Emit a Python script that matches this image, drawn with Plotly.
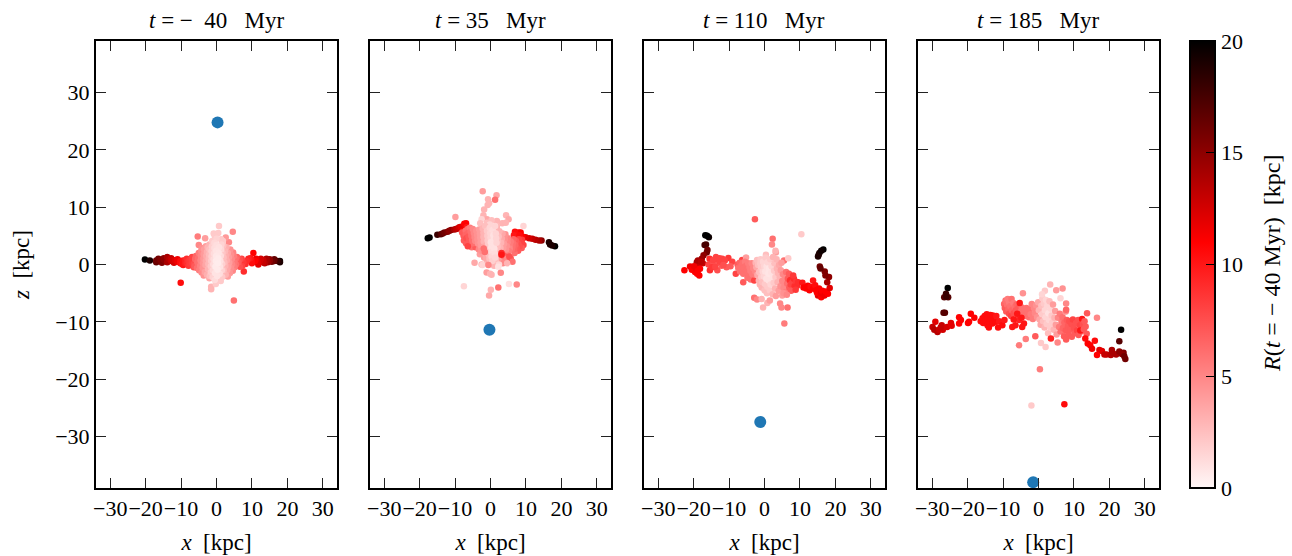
import plotly.graph_objects as go

W, H = 1292, 556
TITLES = ["<i>t</i> = −  40   Myr", "<i>t</i> = 35   Myr", "<i>t</i> = 110   Myr", "<i>t</i> = 185   Myr"]
TICKS = [-30, -20, -10, 0, 10, 20, 30]
CBAR_TICKS = [0, 5, 10, 15, 20]
BLUE_X = [0.3, -0.3, -1.2, -1.5]
BLUE_Z = [24.8, -11.4, -27.5, -38.0]

# (x, z, R)
P1 = [
(-20.2,.87,20),(-18.8,.7,19),(-17,.7,16),(-17,.4,16.5),(-16.4,.6,16),(-16.4,1,16),(-15.8,.8,15.5),(-15.4,.3,15.5),(-14.9,.87,15),(-14.9,1.1,15),(-14.4,.6,15),(-13.9,1.3,14),(-13.9,.4,14),(-13.3,.9,13.5),(-12.8,.6,13),(-12.8,1.1,13),(-12.4,.8,12.5),(-12,.3,12.5),(-11.6,.75,12),(-11,.5,11.5),(-11,.9,11.5),(-10.2,.6,10.5),(-10.2,.2,10.5),(-9.7,.1,10),(-9.4,.7,10),(-9.4,-.1,10),(-8.8,.7,9.5),(-8.8,.2,9.5),(-8.4,.3,9),(-8.4,1,9),(-7.9,.6,8.5),(-7.9,-.2,8.5),(-7.4,.9,8.3),(-7.4,.1,8.3),(-6.9,.8,8),(-6.9,.3,8),(-6.9,1.3,8),(-6.4,.1,7.5),(-6.4,-.5,7.5),(-6,1,7),
(17.9,.6,19.5),(17.2,.6,18),(17.9,.4,19),(16.3,.6,16.5),(16.3,.9,16.5),(15.6,.5,16),(15,.6,15),(15,.9,15),(14.5,.4,14.5),(14.1,.7,14),(14.1,1,14),(13.6,.2,13.5),(13.2,.8,13),(13.1,.4,13),(11.8,0,12),(12.3,.7,12.5),(12.5,1,12.5),(11.6,.4,12),(10.9,.6,11),(11.2,1,11.5),(9.9,.7,10.5),(10,.2,10.5),(9.6,1.1,10),(9,1,9.5),(8.5,.6,9),(8.2,.1,9),(7.1,1,8),(7.6,.4,8.5),(7.2,-.3,8),(6.2,.4,7),(6.6,.9,7.5),(6.6,-.4,7.5),(5.8,1.3,6.5),(5.2,.7,6),
(10.4,2,11),(7.7,-1.2,9),(-10.1,-3.2,10.5),(4.9,-6.3,6),(4.6,5.7,5),(-5.3,4.9,5.5),(.7,6.7,2),(-1.5,-4.3,3),(-1.5,-3.9,3),(-.2,-3.4,2),(1.2,-2.9,2),(3.2,-2.1,4),(-5,3.4,5),(-3.2,4.6,4),(2.6,4.7,4.2),(3.5,3.9,5),(1.3,4.4,2),(1.8,4.1,2),(-.8,5.4,2),(.5,5.5,2),(-.5,5,2),(-3,3.2,4),(-4.2,2.9,4.6),(-2,-2.4,3.6),(-3.6,-1.9,4.5),
(-6.2,-.3,7),(-6,.9,6.5),(-5.8,1.5,6.5),(-5.5,-.6,6),(-5.4,.4,6),(-5.2,1.1,6),(-5,2,5.5),(-4.9,-1,5.4),(-4.6,-.2,5.2),(-4.5,.7,5),(-4.4,1.5,5),(-4.3,2.3,4.8),(-4.2,-1.4,4.8),(-3.9,-.6,4.4),(-3.8,.2,4.3),(-3.7,1,4.2),(-3.6,1.8,4.1),(-3.5,2.6,4),(-3.3,-1.3,3.8),(-3.1,-.1,3.6),(-3,.6,3.5),(-2.9,1.5,3.4),(-2.7,2.2,3.2),(-2.7,-1.8,3.2),(-2.5,3,3),(-2.4,-.8,3),(-2.3,.1,2.8),(-2.2,.9,2.7),(-2.1,1.7,2.6),(-2,2.6,2.5),(-2,3.5,3),(-1.9,-2,2.5),
(5.5,.0,6),(5.4,1,6),(5.1,-.5,5.5),(5,.4,5.6),(4.9,1.5,5.4),(4.7,2.1,5.2),(4.6,-1.1,5),(4.4,0,5),(4.3,.9,4.8),(4.1,1.7,4.6),(4.1,-.6,4.6),(3.9,2.6,4.4),(3.8,-1.5,4.3),(3.6,.3,4),(3.5,1.2,4),(3.3,-.4,3.8),(3.2,2,3.6),(3,-1,3.5),(2.9,.7,3.3),(2.8,3,3.2),(2.7,1.5,3.2),(2.6,-1.8,3),(2.5,-.2,3),(2.4,2.3,2.8),(2.2,.4,2.6),(2,1.2,2.5),(2,-1,2.5),(1.9,3.3,2.4),(1.7,2,2.2),(1.6,-2.2,2),
(-1.6,-1.3,2),(-1.6,-.3,2),(-1.5,.6,1.9),(-1.4,1.4,1.8),(-1.4,2.3,1.8),(-1.3,3.2,1.8),(-1.2,4.1,1.9),(-1.1,-2.2,1.6),(-1,-1,1.4),(-.9,0,1.2),(-.8,.9,1.2),(-.7,1.9,1.2),(-.6,2.9,1.2),(-.6,3.8,1.4),(-.5,-2.7,1.2),(-.4,-1.5,.9),(-.3,-.4,.6),(-.2,.6,.6),(-.1,1.5,.7),(-.1,2.4,.9),(0,3.4,1.1),(0,4.5,1.6),(.2,-2,.9),(.3,-.9,.6),(.4,.2,.5),(.5,1.1,.6),(.6,2,.8),(.7,3,1),(.9,-1.6,1.1),(1,-.4,.9),(1.1,.6,1),(1.2,1.5,1.2),(1.3,2.6,1.4),(1.4,3.5,1.6),(1.5,-1,1.6),(1.6,.1,1.7),
]
P2 = [
(-17.7,4.6,20),(-17.2,4.7,20),(-15,5.2,18),(-14,5.3,17),(-13.5,5.4,16.5),(-13,5.6,16),(-12.1,5.7,15.5),(-11.6,5.9,15),(-11.1,6,15),(-10.2,6.1,14),(-9.7,6.2,13.5),(-9.3,6.3,13),(-8.8,6.5,12.5),(-8.3,6.6,12),(-7.4,7.1,11),(-6.9,7.2,11),(-6.7,6.5,10),(-7.8,5.9,11),
(18.2,3.2,20),(17.4,3.3,19),(16.5,3.9,19),(16.8,3.5,19),(14.4,4.2,15),(13.7,4.2,14),(12.7,4.3,13.5),(11.8,4.5,13),(10.9,4.6,12.5),(9.9,4.75,12),(9,4.9,11),(8.5,5.6,11),(7.9,5.6,11),(6.9,5.7,10.5),(7.6,5,10),(6.6,5.1,10),(8.2,5.1,10.5),
(-2.2,12.8,4),(1.7,12.1,3.5),(-.7,11.4,3),(1.3,11.3,6),(-.4,10.7,3),(-.8,10.4,3),(-1.8,9.6,3),(-2,8.6,3),(-9.9,8.3,4),(4.4,8.6,3),(5.1,7.9,3.5),(-1,7.9,3.5),(-2.5,7.9,1.5),(-1,7.3,2.5),(-2.9,7.2,2.5),(9.3,6.7,1.5),(1.8,7.6,3),(.3,7.7,2.5),(3.3,7.2,3),(4.3,7.3,3),(-.2,7,1.5),
(-7.5,4.2,7),(-6.9,3.7,7),(-5.3,3,6),(-4.2,3,7),(-3.3,2.6,5),(-3,1.8,4),(-2.2,2,4),(-1.8,1.2,4),(-1,.5,3),(-.5,.9,3.5),(.5,.3,2.5),(1,-.2,3),(1.4,.3,3),(2.2,1.2,2),(3,.7,4),(3.8,1.4,6),(4.3,1.8,7),(4.6,1,5),(3.5,.2,5),(9.3,3.4,8),(8.8,2.9,7),(7.8,2.4,7),(6.8,2,6),
(-8,5.6,7),(-7.6,5,7),(-7,5.9,6),(-7,5.2,6.5),(-6.8,4.6,7.5),(-6.4,6.2,6),(-6.3,5.5,6.5),(-6.2,4.9,7),(-6,4.2,7),(-5.8,6.4,5.5),(-5.6,5.7,6),(-5.4,5,6),(-5.2,4.3,6),(-5,3.7,6),(-5,6.2,5),(-4.7,5.5,5),(-4.5,4.8,5),(-4.3,4.1,5),(-4,5.9,4.5),(-3.8,5.2,4.5),(-3.7,4.4,4.5),(-3.5,3.6,4.5),(-3.2,6.1,4),(-3,5.4,4),(-2.9,4.7,4),(-2.8,3.9,4),(-2.6,3.1,4),(-2.6,2.4,4.5),(-2.2,6.3,3),(-2,5.5,3),(-2,4.8,3),(-1.9,4,3),(-1.8,3.1,3.5),(-1.7,2.4,4.5),(-1.4,1.7,3.5),(-1.2,1.1,3.5),(-1.5,6.7,2.5),
(8.9,4.3,8.5),(8.6,3.8,8),(8.2,3.2,7.5),(8,4.4,8),(7.8,3.6,7.5),(7.4,2.9,7),(7.2,4.1,7),(7,3.4,6.5),(6.7,2.7,6.5),(6.5,4.4,6.5),(6.3,3.7,6),(6.2,3.1,6),(6,2.6,6),(5.7,4,5.5),(5.5,3.4,5.5),(5.4,2.8,5),(5.2,2.3,5.5),(4.9,4.6,5),(4.8,3.9,5),(4.6,3.2,4.5),(4.4,2.6,4.5),(4.2,5.3,4.5),(4,4.4,4.5),(3.8,3.6,4),(3.6,2.9,4),(3.4,5.4,3.5),(3.2,4.5,3.5),(3,3.8,3),(2.8,2.9,3),(2.6,1.6,3.5),(2.5,5.8,3),(2.3,4.9,2.5),(2.1,4.1,2.5),(2,3.2,2.5),(1.9,2.3,2.5),(1.8,6.6,3),(1.5,.8,2.5),
(-1,5.9,2),(-.9,5,2),(-.8,4.2,2),(-.7,3.4,2),(-.6,2.6,2),(-.5,1.8,2.5),(-.3,1,2.5),(-.2,6.4,1.5),(-.1,5.5,1.5),(0,4.7,1.5),(.1,3.9,1),(.2,3,1),(.3,2.2,1.2),(.3,1.4,1.5),(.5,.6,1.8),(.6,6,1.2),(.8,5.1,1),(.9,4.3,1),(1,3.5,1),(1.1,2.7,1),(1.2,1.9,1.2),(1.3,1.2,1.5),(1.3,6.7,1.5),(1.5,5.4,1.5),(1.6,4.6,1.5),(1.7,3.8,1.5),
(-6.4,3.2,8),(3.1,2,9),(3.1,1.7,10),(5.7,1.1,7),(5.3,1.4,7.5),(6.2,.5,6),(4.7,.2,3),(-4.5,.3,3.5),(-2.5,0,3),(-2.3,-.1,1.5),(-.6,-.1,5),(2.4,0,1.5),(2.2,-.4,1),(-1.1,-1.4,4),(-.1,-1.6,3),(.3,-1.8,3),(2.9,-1.45,5),(-7.5,-3.8,1.5),(5.2,-3.4,1),(7.4,-3.5,5),(2.2,-4,6),(.1,-4.4,3),(-.4,-5.4,3.5),(-1.6,2.2,6),(-1.9,2.8,6),
]
P3 = [
(-16.7,5.1,20),(-15.7,4.75,19.5),(-16.2,5,20),(-16.5,3.5,17.5),(-16.9,3.4,17.5),(-16.1,2.55,16),(-16.3,2.1,16),(-17.2,1.6,15),(-17.7,1,14.5),(-19.1,.4,14),(-18.6,-.2,13),(-17.4,.2,13),(-18.8,.7,14),(-17.9,.5,13.5),
(-22.6,-1,11),(-21,-.35,11.5),(-20.5,-.9,11),(-19.6,-1.3,11),(-18.4,-1.9,11),(-19.3,-.75,11.5),(-18.2,-.75,11),(-19.9,-.3,11.5),(-19,-1.6,11),(-18.8,-1.1,11),
(-15.5,1,9),(-13.7,1.3,8),(-11.9,1,8),(-10.2,1.15,8.5),(-9.1,.5,8),(-15.8,0,8),(-14.4,.1,7.5),(-13,.3,7),(-13.3,-1,7.5),(-15.4,-1,9),(-12.1,-.2,7),(-10.7,-.5,7),(-9.6,-.3,7),(-8.1,-1.6,8),(-6.3,.8,8),(-7.6,0,7),(-6,-3.1,7),(-5.2,1.2,4),(-2.9,-5.8,6),(-2.1,-6.1,5),(-.8,-6,3),(-.4,-7.5,3),(.8,-6.7,3),(1.5,-6.3,4),(4.4,-6.8,5),(4.8,-7.5,5),(6.5,-7.5,6),(5.6,-10.3,5.5),(-2.7,7.9,7),(10.4,5.3,2),(2.3,4.5,6),(2.1,3.5,5),(.4,1.7,2.5),(3.2,2.1,4),(5.5,.7,6),(6.7,1.1,2),(-14.5,.8,8),(-13.2,.9,8),(-12.6,.5,8),(-14.8,-.5,8.5),(-13.9,-.4,8),(-12.7,1.1,8),(-11.2,.7,8),(-11.6,-.1,7.5),(3.1,2.4,3),
(-7.4,-.6,6),(-7,.3,6.5),(-6.9,-1.2,6),(-6.5,-.2,6),(-6.4,-1,6),(-6.1,.3,6),(-6,-1.6,6),(-5.8,-.6,6),(-5.5,.5,5.5),(-5.4,-1.4,6),(-5.2,-.2,6),(-5,-1,6),(-4.8,-2.3,6),(-4.6,.2,5.5),(-4.4,-1.7,6),(-4.2,-.5,5.5),(-4,-1.1,5.5),(-3.9,-2.6,6),(-3.6,.2,5),(-3.4,-1.7,5.5),(-3.2,-.6,5),(-2.9,-2.8,8),(-2.6,-1.2,5),(-2.5,.3,3),(-2.3,-.5,3.5),(-2.1,.8,2.5),(-2,-1.8,3.5),(-1.8,-.1,2.5),
(-1.6,-2.8,3),(-1.5,-1.3,2.5),(-1.3,-3.5,3),(-1.2,.2,2),(-1.1,.9,2),(-1,-.5,2),(-.9,-2.2,2),(-.8,-4,3),(-.6,-3.1,2.5),(-.5,-1.2,1.5),(-.4,.5,1.5),(-.2,-2.1,1.5),(-.1,-.2,1.5),(0,-4.5,2.5),(.1,-3.4,2),(.2,-1.2,1),(.3,1.2,2),(.5,-2.5,1),(.6,-.3,1),(.7,-5,2.5),(.8,-3.9,2),(.9,.4,1.5),(1.1,-1.6,.8),(1.2,-2.8,1),(1.3,-.7,.8),(1.5,-4.5,2),(1.6,.9,2),(1.7,-3.5,1.5),(1.9,-1.4,1),(2,-.3,1.5),(2.2,-2.4,1),(2.3,-5.2,3),(2.4,1.3,3),(2.6,-3.2,2),(2.7,-1.1,2),(2.8,.2,2.5),(3,-4.2,3),(3.1,-2.2,2),(3.2,-5.5,4),(3.4,.9,3),(3.5,-.7,3),(3.7,-3.1,3),(3.8,-1.5,3),(4,-4.6,4),(4.1,-.1,3.5),(4.3,-2.2,3),(4.5,-3.8,4.5),(4.6,-1,4),(4.8,.3,4),(5,-5.4,4),(5,-2.9,5),(5.2,-1.7,5),(5.4,-4.1,5),(5.6,-3.2,5),(5.8,-2.3,5),(6,-4.8,5.5),(6.1,-1.3,6),(6.4,-3.3,6),(6.6,-2.5,7),(7,-4,7),(7.2,-2.8,9),(7.4,-3.5,8),(7.7,-2.3,9),(7.9,-3.1,8),(8.3,-2.5,9),(8.5,-3.8,9),(8.9,-3,8.5),(9.2,-3.7,9),(9.5,-3.1,9),(6.9,-1.6,7),(7.5,-4.6,7),(8.1,-1.9,8.5),(8.8,-4.4,8.5),(5.4,-5,4.5),(6.3,-5.3,5),
(10.7,-3.2,10),(11,-4,11),(11.8,-4.2,11),(12.2,-3.7,11),(12.7,-4.5,11),(13,-3.9,10.5),(13.7,-2.8,10),(13.7,-4.2,11),(14.3,-3.6,10.5),(14.6,-4.5,11),(15.1,-5.4,12),(14.8,-4.9,11),(15.4,-4.2,11),(16,-5.7,11),(15.9,-5,11.5),(16.3,-4.6,11),(16.9,-5.4,11.5),(17.3,-4.7,11),(17.9,-5.1,11),(18.4,-4.1,12),(17.7,-3.1,14),(18.2,-2.2,15),(17.2,-1.9,15.5),(17,-1.2,15.5),(15.6,-.35,16),(15.8,-.7,16.5),(15.1,1.4,19),(15.5,2,19),(15.3,1.7,19),(16.6,2.6,20),(16,2.4,19.5),
]
P4 = [
(-25.6,-4.1,20),(-26.1,-5.1,18),(-26.6,-5.7,17),(-25.5,-5.7,17),(-26,-5.6,18),(-26.8,-8.4,17),(-26.4,-8.4,17),(-29.1,-10,12),(-29.9,-10.9,13),(-29.4,-11.4,13.5),(-28.5,-11.8,13.5),(-28,-11.4,13),(-27.3,-10.6,13),(-27,-11.4,12.5),(-27.6,-11,13),(-25.8,-10.9,12.5),(-24.7,-10.2,12),(-24.5,-10.7,12),(-22.4,-9.2,11),(-21.9,-9.7,11),(-22.4,-10.3,11),(-19.6,-10,11),(-19.1,-8.6,11),(-18.1,-9.3,11),(-19.9,-10.2,11),
(-16.3,-9.9,10.5),(-15.8,-9.4,10.5),(-15.6,-10.2,10.5),(-15.2,-9,10.5),(-15,-9.8,10.5),(-14.6,-8.7,10.5),(-14.4,-10.6,10.5),(-14.3,-9.4,10.5),(-14,-11,10.5),(-13.9,-10,10.5),(-13.6,-8.8,10.5),(-13.2,-9.5,10.5),(-13,-10.3,10.5),(-12.9,-8.9,10.5),(-12,-10,10.5),(-11.4,-11,10.5),(-11.1,-9.9,10),(-10.2,-10.6,10.5),(-9.6,-9.7,10),(-11.9,-9,10),
(-9.7,-6.9,6.5),(-9.5,-7.6,7),(-9.3,-6.3,6),(-9.1,-8.2,7),(-8.9,-7,6),(-8.7,-6,5.5),(-8.5,-7.8,6.5),(-8.3,-8.6,7.5),(-8.3,-6.6,5.5),(-8,-7.3,6),(-7.7,-9,8),(-7.6,-6,6),(-7.5,-8,6.5),(-7.1,-6.7,5.5),(-7,-8.5,7.5),(-6.7,-7.4,6),(-6.4,-8,7),(-6.2,-7,6.5),(-5.9,-8.8,7.5),(-5.7,-7.6,7),
(-5,-8.2,6),(-4.7,-7.5,6),(-4.3,-8.5,6),(-4,-7.9,6),(-3.7,-9,6),(-3.4,-7.6,6),(-3,-8.4,6),(-2.7,-9.2,6),(-2.5,-7.8,6),(-2.2,-8.7,5.5),(-1.9,-6.9,5),(-1.6,-9.5,5.5),(-1.3,-7.6,5),(-1,-8.5,5),(-.7,-7.1,4.5),(-.4,-9.2,4.5),(-.1,-6.6,3.5),(.1,-8,3),(.3,-9.6,3.5),(.6,-10.5,3.5),(.8,-7.2,2.5),(1,-8.7,2),(1.1,-5.9,2),(1.3,-9.9,2.5),(1.5,-6.8,2),(1.7,-11,3),(1.8,-8,1.5),(2,-9.2,1.5),(2.1,-6.2,1.5),(2.3,-10.4,2),(2.5,-7.1,1.5),(2.7,-12,2.5),(2.8,-8.5,1),(3,-9.7,1.5),(3.1,-6.4,2.5),(3.3,-11,2),(3.5,-7.7,1.5),(3.7,-8.9,2),(3.9,-10.1,2),(4.1,-7,4),(4.3,-11.4,3),(4.5,-9.3,3),(4.7,-8.1,4),(4.9,-10.5,4),(5.1,-12.2,4),(3.3,-3.5,3),(6.8,-4.2,4.5),(5,-4.5,4),(1.8,-4.6,2),(6.2,-5.9,1.5),(1,-5.2,1.5),(7.8,-6.8,5),(7.7,-8.2,5),(7.8,-7.9,6.5),
(-5.3,-6.7,10),(-4.4,-5,4.5),(-7.4,-10.9,10),(-6.5,-10.6,10),(-4.6,-10.9,10),(-4.1,-10.3,10),(-6,-8.6,10),(-5.5,-9.7,9.5),(-7,-9.6,10),(-4.8,-9.3,10),(-5.5,-14.1,5.5),(-3.6,-13,5.5),(-.9,-12.5,7),(.4,-18.3,5.5),(-2,-24.6,2),(7.3,-24.4,10.5),(.7,-13.7,2),(2,-14.4,2),(3.5,-12.9,9.5),(5.4,-13.6,5),
(5.5,-9.3,5),(5.8,-10.9,5.5),(6,-8.6,5.5),(6.2,-11.7,6),(6.5,-10,5.5),(6.8,-9.2,6),(6.9,-11.1,6.5),(7.2,-12.5,7),(7.3,-10.1,6.5),(7.7,-11.5,7),(7.8,-13.1,7),(8,-9.7,7),(8.3,-10.7,7),(8.5,-12.3,7),(8.7,-9.9,7.5),(9,-11.4,7),(9.3,-10.4,7.5),(9.4,-12.6,7),(9.7,-9.6,8),(10,-11.1,7.5),(10.2,-12,7),(10.6,-10.2,7.5),(10.9,-11.5,8),(11.2,-9.7,7.5),(11.3,-12.3,7),(11.7,-10.6,8),(12,-11.7,7),(12.3,-9.5,10),(11.8,-11.5,10),(12.5,-10.4,7.5),(12.8,-11.3,7),(13,-9.9,7),(13.3,-10.8,7),(13.7,-8.5,7),(13.6,-12.1,7),(16.5,-9.3,5),
(13.2,-12.9,10.5),(13.9,-13.8,11),(14.6,-14.1,11),(15.9,-13.3,10.5),(15.1,-14.7,11.5),(17.2,-14.9,12),(17.9,-15.1,12),(16.5,-15.8,11),(18.6,-15.7,13),(19.2,-15.7,13),(20.4,-15.8,13.5),(20.7,-14.9,14),(21.9,-15.7,14),(21,-15.5,14),(22.8,-15.2,15),(22.8,-13.4,17),(23.3,-11.4,20),(24,-15.4,15.5),(23.5,-15.6,15),(24.2,-16,16),(24.5,-16.5,16),
]
PANELS = [sorted(P1, key=lambda p: -p[2]), P2, P3, P4]

LEFT = [96, 370, 644, 918]
PW, TOP, BOT = 241, 41, 488
FONT = "Liberation Serif"
COLORSCALE = [[0, "#fff7f7"], [0.55, "#ff0000"], [1, "#000000"]]

fig = go.Figure()
layout = dict(width=W, height=H, margin=dict(l=0, r=0, t=0, b=0), autosize=False,
              paper_bgcolor="white", plot_bgcolor="white",
              font=dict(family=FONT, size=22, color="black"), showlegend=False)
annotations = []
axis_common = dict(showgrid=False, zeroline=False, showline=True, mirror="allticks", linecolor="black", linewidth=2,
                   ticks="inside", ticklen=10, tickwidth=1.2, tickcolor="#222222", tickangle=0, automargin=False,
                   tickmode="array", tickvals=TICKS, tickfont=dict(family=FONT, size=22, color="black"))
for i, pts in enumerate(PANELS):
    n = "" if i == 0 else str(i + 1)
    xs = [p[0] for p in pts]; zs = [p[1] for p in pts]; rs = [p[2] for p in pts]
    marker = dict(size=6.5, color=rs, cmin=0, cmax=20, colorscale=COLORSCALE, line=dict(width=0), opacity=1)
    if i == 0:
        marker["colorbar"] = dict(x=1190 / W, xanchor="left", xpad=0, ypad=0, thickness=25, thicknessmode="pixels",
                                  lenmode="fraction", len=(BOT - TOP) / H, y=(H - BOT) / H, yanchor="bottom",
                                  outlinewidth=2, outlinecolor="black", ticks="inside", ticklen=10, tickwidth=1,
                                  tickcolor="black", tickmode="array", tickvals=CBAR_TICKS,
                                  tickfont=dict(family=FONT, size=22, color="black"))
    fig.add_trace(go.Scatter(x=xs, y=zs, mode="markers", marker=marker, xaxis="x" + n, yaxis="y" + n))
    fig.add_trace(go.Scatter(x=[BLUE_X[i]], y=[BLUE_Z[i]], mode="markers",
                             marker=dict(size=12, color="#1f77b4"), xaxis="x" + n, yaxis="y" + n, cliponaxis=False))
    layout["xaxis" + n] = dict(axis_common, domain=[LEFT[i] / W, (LEFT[i] + PW) / W], range=[-34, 34], anchor="y" + n,
                               title=dict(text="<i>x</i>  [kpc]", font=dict(family=FONT, size=23), standoff=13))
    layout["yaxis" + n] = dict(axis_common, domain=[1 - BOT / H, 1 - TOP / H], range=[-39, 39], anchor="x" + n,
                               showticklabels=(i == 0))
    annotations.append(dict(x=(LEFT[i] + PW / 2) / W, y=1 - 21 / H, xref="paper", yref="paper", text=TITLES[i],
                            showarrow=False, xanchor="center", yanchor="middle", font=dict(family=FONT, size=23)))
layout["yaxis"]["title"] = dict(text="<i>z</i>  [kpc]", font=dict(family=FONT, size=23), standoff=19)
annotations.append(dict(x=1272 / W, y=1 - 264 / H, xref="paper", yref="paper", text="<i>R</i>(<i>t</i> = − 40 Myr)  [kpc]",
                        textangle=-90, showarrow=False, xanchor="center", yanchor="middle", font=dict(family=FONT, size=24)))
layout["annotations"] = annotations
fig.update_layout(**layout)
fig.write_html("out.html", config={"displayModeBar": False},
               post_script="document.body.style.margin='0';document.body.style.overflow='hidden';")
